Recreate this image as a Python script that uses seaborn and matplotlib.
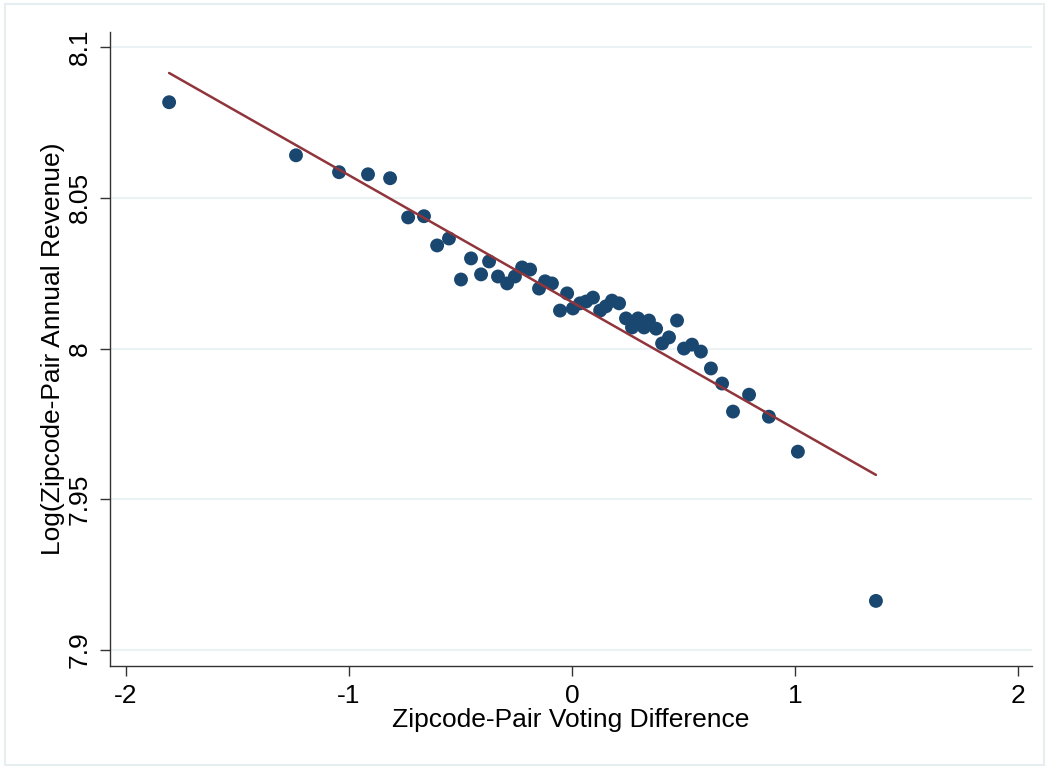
import matplotlib
matplotlib.use("Agg")
import matplotlib.pyplot as plt
import seaborn as sns
import pandas as pd
from matplotlib.patches import Rectangle

# Binned scatter points
vote_diff = [-1.807, -1.238, -1.045, -0.915, -0.816, -0.735, -0.664, -0.605, -0.552, -0.498,
             -0.453, -0.408, -0.372, -0.332, -0.291, -0.256, -0.224, -0.188, -0.148, -0.121,
             -0.090, -0.054, -0.022, 0.004, 0.036, 0.063, 0.094, 0.126, 0.152, 0.179,
             0.211, 0.242, 0.269, 0.296, 0.323, 0.345, 0.377, 0.404, 0.435, 0.471,
             0.502, 0.538, 0.578, 0.623, 0.673, 0.722, 0.794, 0.883, 1.013, 1.363]
log_revenue = [8.0817, 8.0641, 8.0585, 8.0578, 8.0565, 8.0435, 8.0439, 8.0342, 8.0365, 8.0229,
               8.0299, 8.0246, 8.0289, 8.0239, 8.0216, 8.0239, 8.0269, 8.0262, 8.0199, 8.0223,
               8.0216, 8.0126, 8.0183, 8.0133, 8.0150, 8.0156, 8.0169, 8.0126, 8.0140, 8.0159,
               8.0150, 8.0100, 8.0070, 8.0100, 8.0070, 8.0093, 8.0066, 8.0017, 8.0037, 8.0093,
               8.0000, 8.0013, 7.9990, 7.9934, 7.9884, 7.9791, 7.9847, 7.9774, 7.9658, 7.9163]

# Fitted line endpoints
fit_x = [-1.807, 1.363]
fit_y = [8.0914, 7.9581]

x_ticks = [-2, -1, 0, 1, 2]
y_ticks = [7.9, 7.95, 8.0, 8.05, 8.1]
y_tick_labels = ["7.9", "7.95", "8", "8.05", "8.1"]

sns.set_theme(style="white")
plt.rcParams['font.family'] = ['Liberation Sans', 'DejaVu Sans']

df = pd.DataFrame({"x": vote_diff, "y": log_revenue})
fit = pd.DataFrame({"x": fit_x, "y": fit_y})

fig = plt.figure(figsize=(10.49, 7.69), dpi=100)
ax = fig.add_axes([0.1049, 0.1339, 0.8789, 0.8245])

for yv in y_ticks:
    ax.axhline(yv, color="#eaf2f3", lw=1.5, zorder=0)

sns.scatterplot(data=df, x="x", y="y", ax=ax, color="#1a476f", s=100,
                edgecolor="none", zorder=3)
sns.lineplot(data=fit, x="x", y="y", ax=ax, color="#90353b", lw=1.8, zorder=4)

ax.set_xlim(-2.072, 2.063)
ax.set_ylim(7.8947, 8.105)
ax.set_xticks(x_ticks)
ax.set_xticklabels([str(t) for t in x_ticks])
ax.set_yticks(y_ticks)
ax.set_yticklabels(y_tick_labels, rotation=90, va="center")

for s in ["top", "right"]:
    ax.spines[s].set_visible(False)
for s in ["left", "bottom"]:
    ax.spines[s].set_color("#333333")
    ax.spines[s].set_linewidth(1.0)

ax.tick_params(axis="both", which="major", direction="out", length=7, width=1,
               color="#333333", labelsize=19, labelcolor="black", pad=6,
               left=True, bottom=True)

ax.set_xlabel("Zipcode-Pair Voting Difference", fontsize=19, labelpad=0, color="black")
ax.set_ylabel("Log(Zipcode-Pair Annual Revenue)", fontsize=19, labelpad=2, color="black")

fig.patches.append(Rectangle((0.005, 0.005), 0.99, 0.99, transform=fig.transFigure,
                             fill=False, edgecolor="#e6eef0", lw=1.5))

fig.savefig("out.png", dpi=100)
